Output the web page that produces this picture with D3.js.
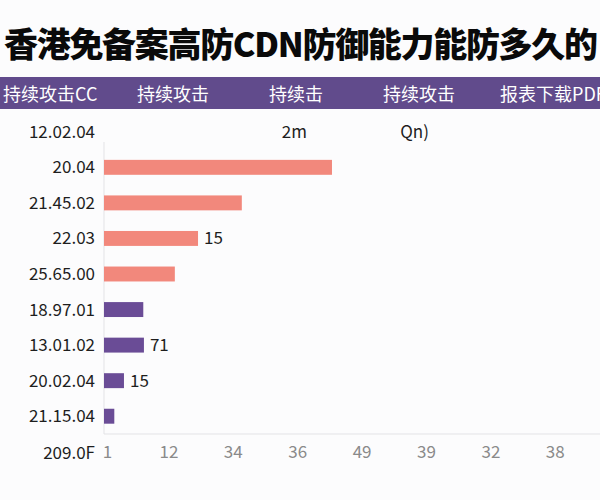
<!DOCTYPE html>
<html>
<head>
<meta charset="utf-8">
<script src="https://cdn.jsdelivr.net/npm/d3@7"></script>
<style>
  body { margin: 0; background: #fcfcfd; }
  svg { display: block; font-family: "Noto Sans CJK SC", "Noto Sans", sans-serif; }
</style>
</head>
<body>
<div id="chart"></div>
<script>
const title = "香港免备案高防CDN防御能力能防多久的";
const headerLabels = ["持续攻击CC", "持续攻击", "持续击", "持续攻击", "报表下载PDF"];
const categories = ["12.02.04", "20.04", "21.45.02", "22.03", "25.65.00", "18.97.01", "13.01.02", "20.02.04", "21.15.04"];
const values = [null, 35.4, 21.4, 14.6, 11.0, 6.1, 6.2, 3.1, 1.6];
const groups = ["a", "a", "a", "a", "a", "b", "b", "b", "b"];
const barLabels = ["", "", "", "15", "", "", "71", "15", ""];
const topNotes = [{ text: "2m", v: 27.6 }, { text: "Qn)", v: 46 }];
const tickValues = [0, 10, 20, 30, 40, 50, 60, 70];
const tickLabels = ["1", "12", "34", "36", "49", "39", "32", "38"];
const axisCorner = "209.0F";

const width = 600, height = 500;
const margin = { top: 114, left: 104, bottom: 66 };

const svg = d3.select("#chart").append("svg")
  .attr("width", width)
  .attr("height", height);

svg.append("rect").attr("width", width).attr("height", height).attr("fill", "#fcfcfd");

// title
svg.append("text")
  .attr("x", 4)
  .attr("y", 57)
  .style("font-size", "34px")
  .style("font-weight", "900")
  .attr("fill", "#0a0a0a")
  .attr("textLength", 594)
  .text(title);

// purple header band
svg.append("rect")
  .attr("x", 0).attr("y", 77)
  .attr("width", width).attr("height", 32)
  .attr("fill", "#614b8c");

const headerX = d3.scaleOrdinal().domain(d3.range(headerLabels.length)).range([3, 137, 269, 383, 500]);
svg.selectAll(".hdr")
  .data(headerLabels)
  .join("text")
  .attr("class", "hdr")
  .attr("x", (d, i) => headerX(i))
  .attr("y", 101)
  .attr("fill", "#ffffff")
  .style("font-size", "18px")
  .text(d => d);

const x = d3.scaleLinear()
  .domain([0, 80])
  .range([margin.left, margin.left + 64.4 * 8]);

const y = d3.scaleBand()
  .domain(categories)
  .range([margin.top, height - margin.bottom])
  .paddingInner(0.58)
  .paddingOuter(0.29);

const color = d3.scaleOrdinal()
  .domain(["a", "b"])
  .range(["#f2887c", "#6a4c96"]);

// axis frame lines
svg.append("line")
  .attr("x1", x(0)).attr("x2", x(0))
  .attr("y1", 142).attr("y2", height - margin.bottom)
  .attr("stroke", "#e3e3e6");
svg.append("line")
  .attr("x1", x(0)).attr("x2", width)
  .attr("y1", height - margin.bottom).attr("y2", height - margin.bottom)
  .attr("stroke", "#e3e3e6");

const rows = categories.map((c, i) => ({ cat: c, value: values[i], group: groups[i], label: barLabels[i] }));

// bars
svg.selectAll(".bar")
  .data(rows.filter(d => d.value != null))
  .join("rect")
  .attr("class", "bar")
  .attr("x", x(0))
  .attr("y", d => y(d.cat))
  .attr("width", d => x(d.value) - x(0))
  .attr("height", y.bandwidth())
  .attr("fill", d => color(d.group));

// category labels
svg.selectAll(".cat")
  .data(categories)
  .join("text")
  .attr("class", "cat")
  .attr("x", 95)
  .attr("y", d => y(d) + y.bandwidth() / 2)
  .attr("dy", "0.35em")
  .attr("text-anchor", "end")
  .attr("fill", "#1e1e1e")
  .style("font-size", "17px")
  .text(d => d);

// value labels
svg.selectAll(".val")
  .data(rows.filter(d => d.label))
  .join("text")
  .attr("class", "val")
  .attr("x", d => x(d.value) + 6)
  .attr("y", d => y(d.cat) + y.bandwidth() / 2)
  .attr("dy", "0.35em")
  .attr("fill", "#1e1e1e")
  .style("font-size", "17px")
  .text(d => d.label);

// notes in first row
svg.selectAll(".note")
  .data(topNotes)
  .join("text")
  .attr("class", "note")
  .attr("x", d => x(d.v))
  .attr("y", y(categories[0]) + y.bandwidth() / 2)
  .attr("dy", "0.35em")
  .attr("fill", "#1e1e1e")
  .style("font-size", "17px")
  .text(d => d.text);

// x axis
const xAxis = d3.axisBottom(x)
  .tickValues(tickValues)
  .tickFormat((d, i) => tickLabels[i])
  .tickSize(0)
  .tickPadding(12);

const gx = svg.append("g")
  .attr("transform", `translate(0,${height - margin.bottom})`)
  .call(xAxis);
gx.select(".domain").remove();
gx.selectAll("text")
  .attr("fill", "#8a8a8a")
  .style("font-size", "17px")
  .style("font-family", "\"Noto Sans CJK SC\", \"Noto Sans\", sans-serif");
gx.selectAll(".tick text").filter((d, i) => i === 0).attr("dx", "3px");

svg.append("text")
  .attr("x", 95)
  .attr("y", 453)
  .attr("dy", "0.35em")
  .attr("text-anchor", "end")
  .attr("fill", "#1e1e1e")
  .style("font-size", "17px")
  .text(axisCorner);
</script>
</body>
</html>
